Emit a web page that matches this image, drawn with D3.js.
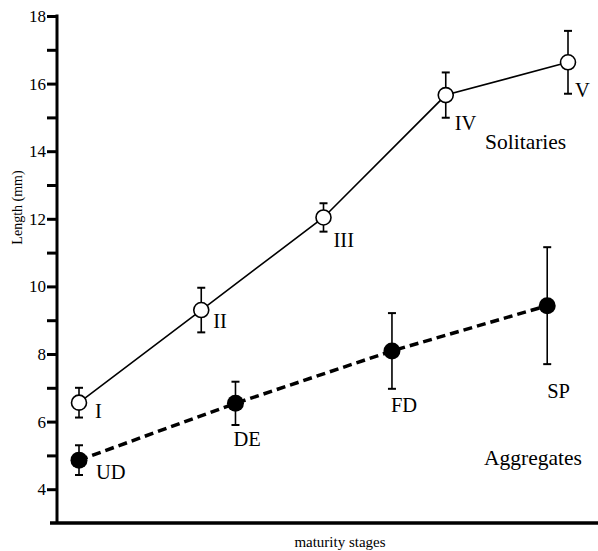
<!DOCTYPE html>
<html>
<head>
<meta charset="utf-8">
<script src="https://cdn.jsdelivr.net/npm/d3@7"></script>
<style>
  body { margin: 0; background: #fff; }
  svg { display: block; }
  svg text { font-family: "Liberation Serif", "Times New Roman", serif; }
</style>
</head>
<body>
<div id="chart"></div>
<script>
// ---- data ----
// solitaries: open circles, solid line
const solStages = ["I", "II", "III", "IV", "V"];
const solPos = [1, 2, 3, 4, 5];
const solMean = [6.56, 9.3, 12.04, 15.66, 16.63];
const solErr = [0.44, 0.66, 0.42, 0.67, 0.93];

// aggregates: filled circles, dashed line
const aggStages = ["UD", "DE", "FD", "SP"];
const aggPos = [1, 2.28, 3.56, 4.83];
const aggMean = [4.86, 6.54, 8.09, 9.43];
const aggErr = [0.44, 0.64, 1.12, 1.73];

const yTicks = [4, 5, 6, 7, 8, 9, 10, 11, 12, 13, 14, 15, 16, 17, 18];

// ---- svg ----
const width = 598, height = 551;
const margin = { top: 16, right: 0, bottom: 28, left: 57 };

const svg = d3.select("#chart")
  .append("svg")
  .attr("width", width)
  .attr("height", height);

const x = d3.scaleLinear().domain([1, 5]).range([79, 568]);
const y = d3.scaleLinear().domain([3, 18]).range([height - margin.bottom, margin.top]);

// y axis
const yAxis = d3.axisLeft(y)
  .tickValues(yTicks)
  .tickSize(10)
  .tickPadding(1)
  .tickFormat(d => d % 2 === 0 ? d : "");

const gy = svg.append("g")
  .attr("transform", `translate(${margin.left},0)`)
  .call(yAxis);
gy.select(".domain").remove();
gy.selectAll(".tick line").attr("stroke", "#000").attr("stroke-width", 3);
gy.selectAll(".tick text")
  .attr("fill", "#000")
  .style("font-size", "17px")
  .style("font-family", "'Liberation Serif', serif");

gy.append("line")
  .attr("x1", 0).attr("x2", 0)
  .attr("y1", y(18) - 1.5).attr("y2", y(3))
  .attr("stroke", "#000").attr("stroke-width", 3);

// x axis (no ticks)
svg.append("line")
  .attr("x1", 50).attr("x2", width)
  .attr("y1", y(3)).attr("y2", y(3))
  .attr("stroke", "#000").attr("stroke-width", 3.5);

// axis titles
svg.append("text")
  .attr("transform", `translate(22,${(170 + 245) / 2}) rotate(-90)`)
  .attr("text-anchor", "middle")
  .attr("font-size", 14)
  .text("Length (mm)");

svg.append("text")
  .attr("x", 340).attr("y", 547)
  .attr("text-anchor", "middle")
  .attr("font-size", 15)
  .text("maturity stages");

// ---- series ----
const sol = solStages.map((s, i) => ({ label: s, pos: solPos[i], v: solMean[i], e: solErr[i] }));
const agg = aggStages.map((s, i) => ({ label: s, pos: aggPos[i], v: aggMean[i], e: aggErr[i] }));

const line = d3.line().x(d => x(d.pos)).y(d => y(d.v));

svg.append("path")
  .datum(agg)
  .attr("d", line)
  .attr("fill", "none")
  .attr("stroke", "#000")
  .attr("stroke-width", 3.5)
  .attr("stroke-dasharray", "9,5");

svg.append("path")
  .datum(sol)
  .attr("d", line)
  .attr("fill", "none")
  .attr("stroke", "#000")
  .attr("stroke-width", 1.6);

function errorBars(data) {
  const g = svg.append("g").attr("stroke", "#000").attr("stroke-width", 1.6);
  data.forEach(d => {
    const cx = x(d.pos);
    g.append("line").attr("x1", cx).attr("x2", cx).attr("y1", y(d.v + d.e)).attr("y2", y(d.v - d.e));
    g.append("line").attr("x1", cx - 4).attr("x2", cx + 4).attr("y1", y(d.v + d.e)).attr("y2", y(d.v + d.e)).attr("stroke-width", 2);
    g.append("line").attr("x1", cx - 4).attr("x2", cx + 4).attr("y1", y(d.v - d.e)).attr("y2", y(d.v - d.e)).attr("stroke-width", 2);
  });
}
errorBars(agg);
errorBars(sol);

svg.append("g").selectAll("circle")
  .data(agg).enter().append("circle")
  .attr("cx", d => x(d.pos)).attr("cy", d => y(d.v))
  .attr("r", 8.5).attr("fill", "#000");

svg.append("g").selectAll("circle")
  .data(sol).enter().append("circle")
  .attr("cx", d => x(d.pos)).attr("cy", d => y(d.v))
  .attr("r", 7.5).attr("fill", "#fff")
  .attr("stroke", "#000").attr("stroke-width", 1.6);

// point labels
const solLabelDx = [16, 12, 10, 9, 7];
const solLabelDy = [15, 18, 30, 35, 35];
const aggLabelDx = [17, -2, -1, 0];
const aggLabelDy = [19, 43, 61, 92];

svg.append("g").selectAll("text")
  .data(sol).enter().append("text")
  .attr("x", (d, i) => x(d.pos) + solLabelDx[i])
  .attr("y", (d, i) => y(d.v) + solLabelDy[i])
  .attr("font-size", 20.5)
  .text(d => d.label);

svg.append("g").selectAll("text")
  .data(agg).enter().append("text")
  .attr("x", (d, i) => x(d.pos) + aggLabelDx[i])
  .attr("y", (d, i) => y(d.v) + aggLabelDy[i])
  .attr("font-size", 20.5)
  .text(d => d.label);

// series names
svg.append("text")
  .attr("x", 485).attr("y", 149)
  .attr("font-size", 21.5)
  .text("Solitaries");

svg.append("text")
  .attr("x", 484).attr("y", 465)
  .attr("font-size", 21.5)
  .text("Aggregates");
</script>
</body>
</html>
